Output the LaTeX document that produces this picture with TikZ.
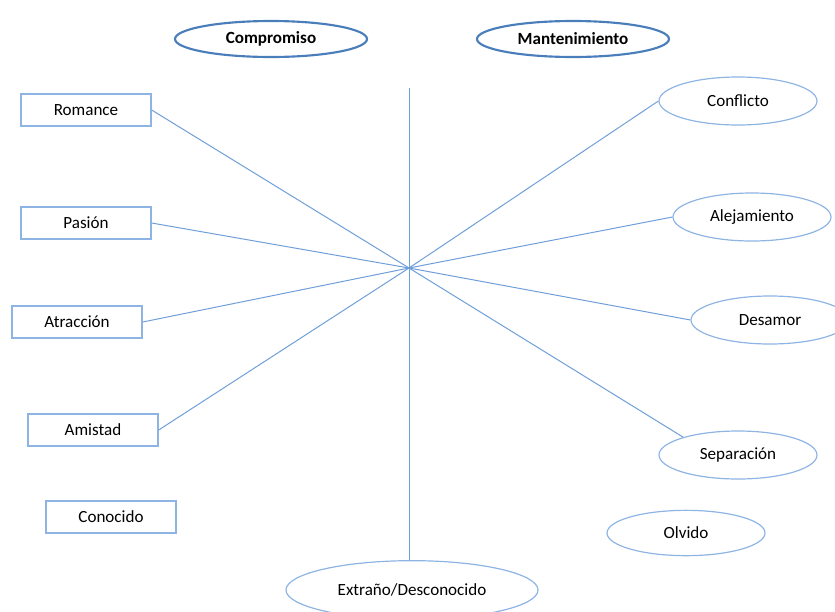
\documentclass[tikz,border=0pt]{standalone}
\usepackage{fontspec}
\setmainfont{Carlito}
\usepackage{xcolor}
\usepackage{tikz}
\usetikzlibrary{shapes.geometric}
\definecolor{headblue}{HTML}{4A7EBB}
\definecolor{boxblue}{HTML}{8EB4E3}
\definecolor{lineblue}{HTML}{6F9FD8}

\begin{document}
\begin{tikzpicture}[x=0.75pt,y=-0.75pt,font=\fontsize{12.8}{15}\selectfont]
	\tikzstyle{stage} = [draw=boxblue, line width=1pt, minimum width=97.5pt, minimum height=24pt]
	\tikzstyle{phase} = [ellipse, draw=boxblue, line width=0.9pt, inner sep=0pt, minimum width=118.5pt, minimum height=36pt]
	\tikzstyle{heading} = [ellipse, draw=headblue, line width=1.6pt, inner sep=0pt, minimum width=144pt, minimum height=27pt, font=\fontsize{12.8}{15}\selectfont\bfseries]
	\tikzset{edge/.style = {draw=lineblue, line width=0.75pt}}
	\useasboundingbox (0,0) rectangle (835,611);
	
	% headings
	\node[heading](comp) at (271,39) {Compromiso};
	\node[heading](mant) at (573,39) {Mantenimiento};
	
	% axis
	\coordinate (hub) at (409,268);
	\coordinate (top) at (409,88);
	\node[phase, minimum width=189pt, minimum height=44pt](ext) at (412,590) {Extraño/Desconocido};
	\draw[edge](top) -- (top |- ext.north);
	
	% left side: boxes
	\node[stage](rom) at (86,110) {Romance};
	\node[stage](pas) at (86,223) {Pasión};
	\node[stage](atr) at (77,322) {Atracción};
	\node[stage](ami) at (93,430) {Amistad};
	\node[stage](con) at (111,517) {Conocido};
	\draw[edge](rom.east) -- (hub);
	\draw[edge](pas.east) -- (hub);
	\draw[edge](atr.east) -- (hub);
	\draw[edge](ami.east) -- (hub);
	
	% right side: ellipses
	\node[phase](cfl) at (738,101) {Conflicto};
	\node[phase](ale) at (752,217) {Alejamiento};
	\node[phase](des) at (770,320) {Desamor};
	\node[phase](sep) at (738,455) {Separación};
	\node[phase, minimum height=34pt](olv) at (686,533) {Olvido};
	\draw[edge](hub) -- (cfl.west);
	\draw[edge](hub) -- (ale.west);
	\draw[edge](hub) -- (des.west);
	\draw[edge](hub) -- (sep.162);
\end{tikzpicture}
\end{document}
